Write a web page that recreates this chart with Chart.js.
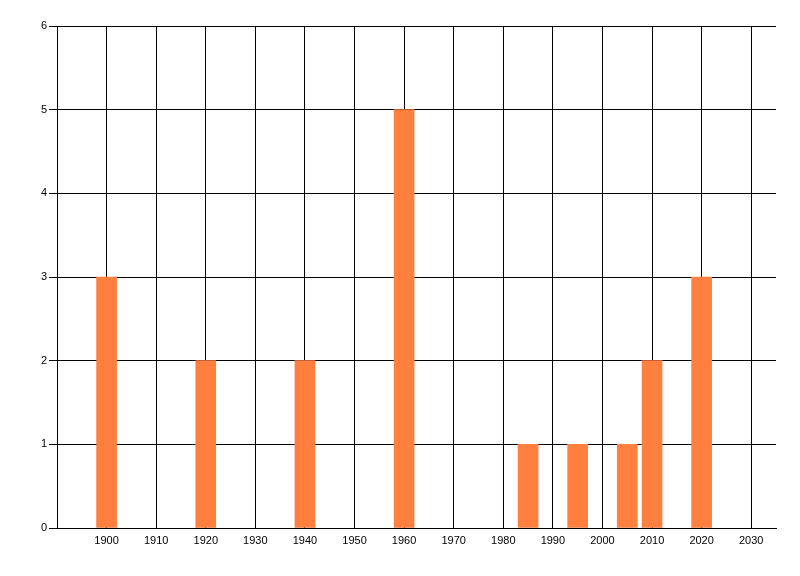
<!DOCTYPE html>
<html>
<head>
<meta charset="utf-8">
<script src="https://cdn.jsdelivr.net/npm/chart.js@4"></script>
<style>
  html, body { margin: 0; padding: 0; background: #fff; }
</style>
</head>
<body>
<canvas id="myChart" width="800" height="576"></canvas>
<script>
// 年ごとの件数
const years = [1900, 1920, 1940, 1960, 1985, 1995, 2005, 2010, 2020];
const counts = [3, 2, 2, 5, 1, 1, 1, 2, 3];
const xTicks = [1900, 1910, 1920, 1930, 1940, 1950, 1960, 1970, 1980, 1990, 2000, 2010, 2020, 2030];
const yTicks = [0, 1, 2, 3, 4, 5, 6];

const tickFont = { family: '"Liberation Sans", Arial, sans-serif', size: 11 };

const ctx = document.getElementById('myChart').getContext('2d');
const myChart = new Chart(ctx, {
    type: 'bar',
    data: {
        datasets: [{
            data: years.map((y, i) => ({ x: y, y: counts[i] })),
            backgroundColor: '#ff7f3f',
            borderWidth: 0,
            barThickness: 20
        }]
    },
    options: {
        responsive: false,
        animation: false,
        layout: { padding: { top: 26, right: 24, left: 0, bottom: 0 } },
        plugins: { legend: { display: false }, tooltip: { enabled: false } },
        scales: {
            x: {
                type: 'linear',
                min: 1890,
                max: 2035,
                offset: false,
                afterBuildTicks: axis => { axis.ticks = xTicks.map(v => ({ value: v })); },
                afterFit: axis => { axis.height = 48; },
                grid: { color: '#000', lineWidth: 1, drawTicks: false, offset: false },
                border: { color: '#000', width: 1 },
                ticks: { color: '#000', font: tickFont, padding: 6, maxRotation: 0, callback: v => String(v) }
            },
            y: {
                min: 0,
                max: 6,
                afterBuildTicks: axis => { axis.ticks = yTicks.map(v => ({ value: v })); },
                afterFit: axis => { axis.width = 57; },
                grid: { color: '#000', lineWidth: 1, tickLength: 8 },
                border: { color: '#000', width: 1 },
                ticks: { color: '#000', font: tickFont, padding: 2 }
            }
        }
    }
});
</script>
</body>
</html>
